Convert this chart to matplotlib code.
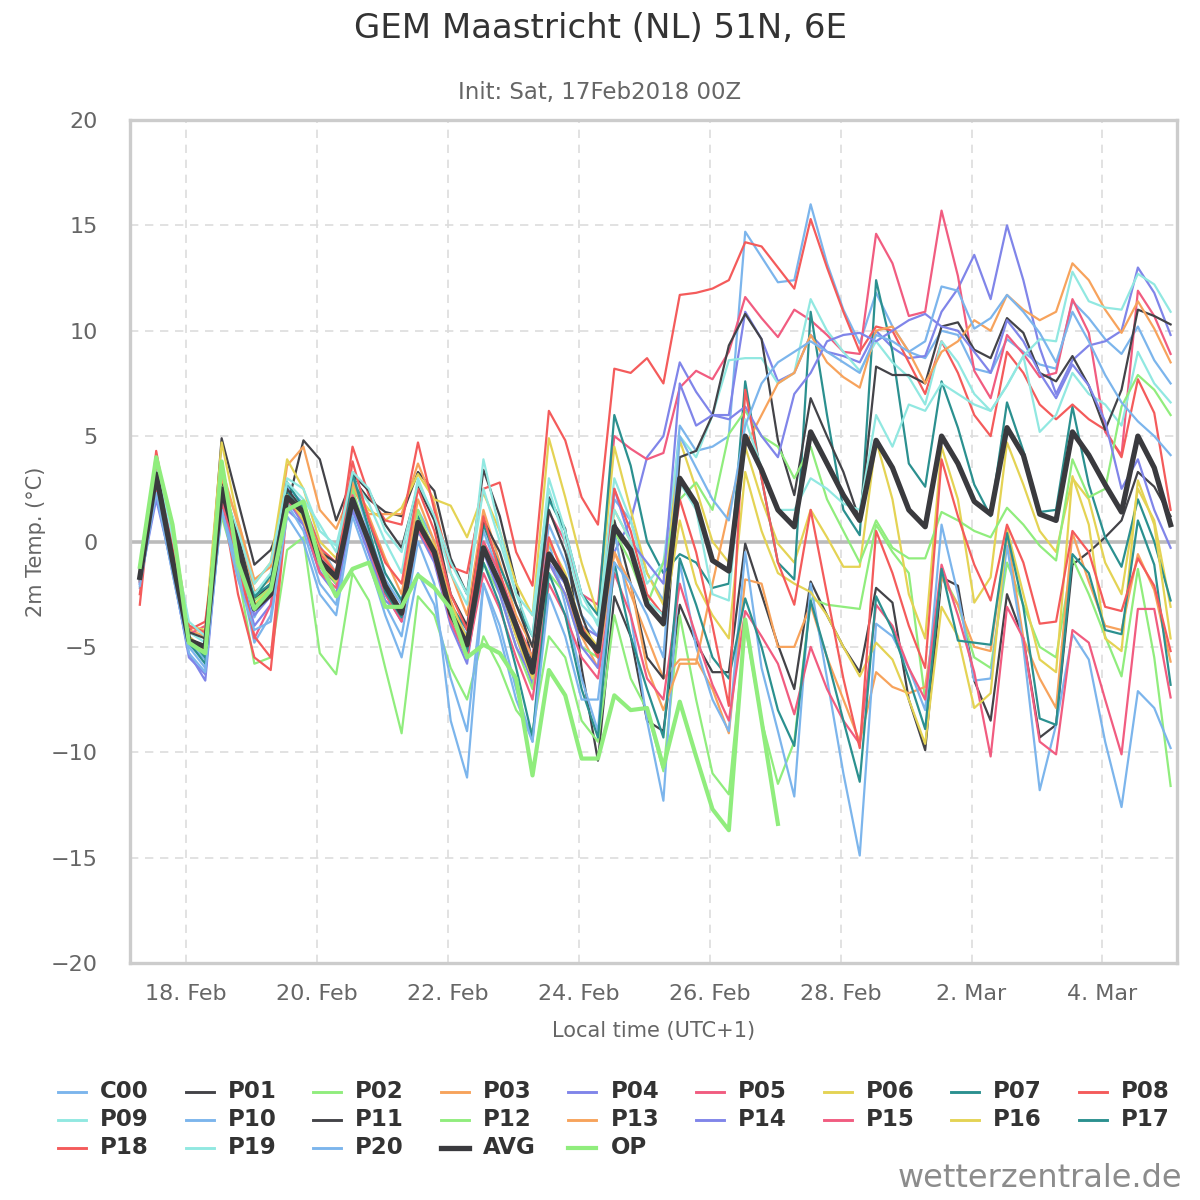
import numpy as np
import matplotlib.pyplot as plt
from matplotlib.lines import Line2D

# 6-hourly steps from 17 Feb 2018 07:00 local time (00Z run + 6h, UTC+1)
times = np.datetime64("2018-02-17T07:00") + np.arange(64) * np.timedelta64(6, "h")

c00 = [-1.9, 2.8, -0.5, -4.9, -5.6, 2.0, -0.5, -3.6,
       -2.0, 2.6, 1.8, -0.2, -1.5, 3.0, 0.4, -1.8,
       -3.0, 1.5, 0.0, -3.0, -4.5, 0.5, -1.6, -3.8,
       -5.8, 0.8, -1.0, -3.5, -4.5, 2.0, 1.0, -1.5,
       -2.8, 5.5, 4.3, 4.5, 5.0, 14.7, 13.5, 12.3,
       12.4, 16.0, 13.2, 11.0, 9.4, 11.8, 10.2, 9.0,
       8.7, 10.0, 9.8, 8.2, 8.0, 9.6, 9.0, 8.4,
       8.2, 11.4, 10.6, 9.6, 8.9, 10.2, 8.6, 7.5]
p01 = [-1.6, 3.3, -0.7, -4.6, -5.0, 4.9, 1.9, -1.1,
       -0.4, 1.6, 4.8, 3.9, 1.0, 3.0, 2.0, 1.4,
       1.2, 3.3, 2.4, -0.8, -2.5, 3.4, 1.2, -2.0,
       -5.8, 2.1, 0.6, -6.0, -10.4, -2.6, -4.5, -8.5,
       -9.0, -3.0, -4.8, -6.2, -6.2, -0.1, -2.5, -4.9,
       -7.0, -1.9, -3.5, -5.0, -6.2, -2.2, -2.9, -7.5,
       -9.9, -1.7, -2.1, -6.6, -8.5, -2.5, -4.6, -9.3,
       -8.7, -1.1, -0.5, 0.2, 1.0, 3.3, 2.6, 1.2]
p02 = [-1.3, 3.6, 0.8, -4.8, -5.4, 1.2, -1.5, -5.8,
       -5.5, -0.4, 0.2, -5.3, -6.3, -1.5, -2.8, -6.0,
       -9.1, -2.6, -3.5, -6.0, -7.5, -4.5, -6.0, -8.0,
       -9.0, -4.5, -5.5, -8.5, -9.5, -3.5, -6.5, -8.0,
       -10.9, -3.5, -7.5, -11.0, -12.0, -4.0, -8.5, -11.5,
       -9.5, -2.7, -3.0, -3.1, -3.2, 0.8, -0.5, -1.5,
       -7.5, -1.5, -3.0, -5.5, -6.0, -1.0, -3.0, -5.0,
       -5.5, -0.8, -2.5, -4.5, -6.4, -1.3, -5.5, -11.6]
p03 = [-1.4, 3.5, -0.6, -4.2, -4.5, 3.5, 0.8, -2.4,
       -1.8, 3.6, 4.5, 1.5, 0.6, 2.5, 1.3, 1.3,
       1.3, 3.7, 1.8, -1.5, -3.5, 1.5, -1.0, -3.5,
       -5.0, -0.5, -2.0, -4.5, -6.0, -0.5, -2.5, -4.5,
       -6.5, -5.6, -5.6, -7.0, -9.1, -1.8, -2.0, -5.0,
       -5.0, -3.0, -5.5, -7.5, -9.5, -6.2, -6.9, -7.2,
       -6.9, -1.7, -3.0, -5.0, -5.2, 0.4, -4.6, -6.5,
       -7.9, 0.4, -1.9, -4.0, -4.2, -0.6, -2.3, -5.7]
p04 = [-2.0, 2.4, -1.5, -5.3, -6.6, 1.8, -1.0, -4.0,
       -3.0, 1.5, 0.8, -1.5, -2.5, 1.5, -0.5, -2.5,
       -3.8, 0.5, -0.5, -3.8, -5.5, -0.3, -2.2, -4.5,
       -6.8, -1.0, -2.0, -4.0, -4.5, -0.5, 1.0, 4.0,
       5.0, 8.5, 7.1, 6.0, 6.0, 10.9, 9.6, 7.6,
       8.0, 9.8, 9.0, 8.8, 8.5, 10.0, 9.2, 8.7,
       8.8, 10.9, 12.0, 13.6, 11.5, 15.0, 12.4, 9.2,
       7.0, 8.6, 9.3, 9.5, 10.0, 13.0, 11.8, 9.8]
p05 = [-1.8, 2.2, -1.0, -4.4, -4.0, 2.2, 0.0, -3.0,
       -2.6, 2.4, 1.0, -1.2, -2.0, 2.0, 0.2, -2.3,
       -3.5, 0.6, -0.8, -3.5, -5.0, 0.0, -1.5, -3.8,
       -5.5, 1.4, 0.0, -2.5, -3.0, 5.0, 4.4, 3.9,
       4.2, 7.3, 8.1, 7.7, 9.0, 11.6, 10.6, 9.7,
       11.0, 10.5, 9.8, 9.0, 8.9, 14.6, 13.2, 10.7,
       10.9, 15.7, 12.6, 8.1, 6.8, 9.8, 8.9, 7.8,
       8.0, 11.5, 9.9, 5.2, 4.1, 11.9, 10.7, 8.9]
p06 = [-1.5, 3.4, -0.3, -4.0, -4.2, 4.7, 1.0, -2.0,
       -1.0, 3.9, 2.5, 0.0, -0.8, 2.6, 1.5, 1.0,
       1.6, 3.2, 2.0, 1.7, 0.2, 2.3, 0.5, -2.0,
       -3.5, 4.9, 2.1, -1.0, -3.5, 4.5, 1.5, -1.5,
       -3.0, 4.8, 2.5, 0.0, -1.0, 4.5, 2.0, -0.1,
       -1.0, 1.5, 0.2, -1.2, -1.2, 4.8, 2.0, -2.5,
       -4.6, 4.5, 2.0, -2.9, -1.7, 4.7, 2.7, 0.5,
       -0.5, 3.0, 2.0, -1.0, -2.5, 2.5, 1.0, -3.1]
p07 = [-1.9, 3.3, -0.6, -4.6, -5.5, 2.2, -0.8, -2.7,
       -1.6, 2.4, 1.2, -1.0, -2.0, 3.3, 1.0, -1.5,
       -2.8, 1.2, -0.5, -3.0, -4.2, 0.8, -1.2, -3.0,
       -4.5, 2.0, 0.5, -2.5, -3.5, 6.0, 3.6, 0.0,
       -1.5, -0.6, -1.0, -2.2, -2.0, 7.6, 3.0, -1.0,
       -1.8, 10.9, 6.0, 1.5, 0.3, 12.4, 9.0, 3.7,
       2.6, 7.6, 5.4, 2.7, 1.2, 6.6, 4.3, 1.4,
       1.5, 6.4, 2.7, 0.2, -1.2, 2.0, 0.0, -2.8]
p08 = [-3.0, 4.3, 0.0, -4.2, -3.8, 2.0, -2.5, -5.5,
       -6.1, 1.5, 1.8, -0.3, -1.0, 4.5, 2.2, 1.0,
       0.8, 4.7, 1.5, -1.2, -1.5, 2.5, 2.8, -0.5,
       -2.1, 6.2, 4.8, 2.1, 0.8, 8.2, 8.0, 8.7,
       7.5, 11.7, 11.8, 12.0, 12.4, 14.2, 14.0, 13.0,
       12.0, 15.3, 13.0, 10.9, 9.0, 10.2, 10.0, 8.5,
       7.0, 9.5, 8.0, 6.0, 5.0, 9.0, 8.0, 6.5,
       5.8, 6.5, 5.8, 5.3, 4.0, 7.7, 6.1, 1.5]
p09 = [-1.6, 3.5, -0.4, -4.3, -4.8, 2.5, -0.1, -2.5,
       -1.5, 3.0, 2.5, 0.5, -0.2, 3.0, 1.8, 0.0,
       -1.5, 3.0, 1.0, -1.5, -3.0, 3.9, 0.5, -2.5,
       -4.5, 3.0, 0.5, -2.5, -4.0, 3.0, 1.0, -2.0,
       -1.0, 5.0, 4.0, 6.0, 8.6, 8.7, 8.7, 7.5,
       8.0, 11.5, 10.0, 9.0, 8.1, 9.5, 8.5, 7.8,
       6.5, 9.5, 8.5, 7.0, 6.2, 7.4, 8.8, 5.2,
       6.0, 8.0, 7.0, 6.5, 5.5, 9.0, 7.5, 6.6]
p10 = [-2.2, 2.5, -1.2, -5.0, -6.0, 1.5, -1.2, -4.8,
       -3.5, 1.8, 0.5, -2.0, -3.0, 1.8, -0.5, -3.0,
       -4.5, 0.0, -2.0, -8.5, -11.2, -2.0, -4.0, -7.0,
       -9.5, 0.0, -3.0, -6.5, -9.0, 0.5, -3.5, -8.5,
       -12.3, -1.0, -5.0, -7.5, -9.0, -0.5, -6.0, -9.0,
       -12.1, -2.0, -6.5, -11.0, -14.9, -3.9, -4.5, -6.0,
       -8.0, 0.8, -2.5, -6.6, -6.5, -0.2, -5.0, -11.8,
       -8.7, -4.4, -5.6, -9.5, -12.6, -7.1, -7.9, -9.8]
p11 = [-1.8, 3.0, -0.4, -4.3, -4.6, 2.8, 0.3, -2.8,
       -2.0, 2.5, 1.5, -0.5, -1.0, 3.2, 2.4, 0.8,
       -0.3, 2.6, 1.0, -2.5, -4.0, 1.0, -0.5, -3.0,
       -5.0, 1.5, -0.5, -3.5, -5.5, 1.0, -2.0, -5.5,
       -6.5, 4.0, 4.3, 6.0, 9.3, 10.8, 9.6, 4.8,
       2.2, 6.8, 5.0, 3.3, 1.0, 8.3, 7.9, 7.9,
       7.5, 10.2, 10.4, 9.1, 8.7, 10.6, 9.9, 8.0,
       7.6, 8.8, 7.4, 5.3, 7.2, 11.0, 10.7, 10.3]
p12 = [-1.6, 3.9, 0.4, -4.6, -5.1, 3.5, -0.8, -2.8,
       -2.2, 1.8, 1.2, -1.0, -2.0, 2.5, 0.0, -2.5,
       -3.2, 1.5, -0.5, -3.5, -5.5, -1.0, -2.5, -5.0,
       -7.0, -1.5, -2.5, -5.0, -5.5, 0.5, -1.0, -3.0,
       -1.0, 2.0, 2.8, 1.5, 5.1, 6.2, 5.0, 4.5,
       3.0, 4.5, 2.0, 0.5, -1.0, 1.0, -0.3, -0.8,
       -0.8, 1.4, 1.0, 0.5, 0.2, 1.6, 0.8, -0.2,
       -0.9, 3.9, 2.1, 2.5, 6.4, 7.9, 7.2, 6.0]
p13 = [-1.2, 3.7, 0.5, -4.0, -4.4, 3.0, 1.0, -1.8,
       -1.2, 2.0, 1.5, -0.4, -1.5, 2.8, 1.2, -0.8,
       -2.5, 2.0, 0.0, -2.8, -4.8, -0.5, -2.0, -4.0,
       -5.5, -1.0, -2.5, -4.5, -5.2, -0.5, -2.0, -6.0,
       -8.0, -5.8, -5.8, -2.0, 1.5, 4.5, 6.0, 7.5,
       8.0, 9.8, 8.5, 7.8, 7.3, 10.0, 10.2, 9.0,
       7.5, 9.0, 9.5, 10.5, 10.0, 11.7, 11.0, 10.5,
       10.9, 13.2, 12.4, 11.0, 9.9, 11.4, 10.1, 8.5]
p14 = [-2.0, 2.0, -1.3, -5.5, -6.3, 2.0, -0.6, -3.5,
       -2.6, 2.0, 0.8, -1.4, -2.5, 1.5, -0.6, -2.8,
       -3.5, 0.5, -1.0, -4.0, -5.8, -0.5, -2.5, -5.0,
       -6.5, -1.0, -2.5, -5.0, -6.0, 2.5, 0.0, -1.0,
       -2.0, 7.5, 5.5, 6.0, 5.8, 6.4, 5.0, 4.0,
       7.0, 8.0, 9.5, 9.8, 9.9, 9.5, 10.0, 10.5,
       10.8, 10.2, 10.0, 9.0, 8.0, 10.5, 9.5, 8.0,
       6.8, 8.4, 7.4, 5.7, 2.5, 3.9, 1.5, -0.3]
p15 = [-1.9, 2.6, -1.0, -4.5, -5.2, 2.0, -0.8, -4.6,
       -3.0, 2.0, 1.0, -1.5, -2.2, 2.2, -0.3, -2.5,
       -3.8, 0.6, -0.8, -3.8, -5.5, -1.5, -3.2, -5.5,
       -7.5, -2.0, -3.5, -5.5, -6.5, -1.5, -3.5, -6.5,
       -7.5, -2.0, -4.5, -6.8, -8.5, -3.3, -4.5, -5.8,
       -8.2, -5.0, -7.0, -8.5, -9.6, -3.0, -4.0, -6.0,
       -7.5, -1.1, -3.5, -6.2, -10.2, -3.1, -4.6, -9.5,
       -10.1, -4.2, -4.8, -7.5, -10.1, -3.2, -3.2, -7.4]
p16 = [-1.7, 3.0, -0.8, -4.5, -5.2, 2.6, -0.4, -3.0,
       -2.2, 2.2, 1.0, -1.0, -1.9, 1.8, 0.0, -2.0,
       -3.3, 1.0, -0.2, -3.0, -4.6, -0.2, -2.0, -4.5,
       -6.5, 0.0, -1.5, -4.0, -5.0, 1.5, 0.0, -3.0,
       -4.0, 1.0, -2.0, -3.5, -4.6, 3.3, 0.5, -1.5,
       -2.0, -2.4, -3.5, -5.0, -6.4, -4.8, -5.6, -7.5,
       -9.6, -3.1, -4.5, -7.9, -7.2, 0.6, -2.5, -5.6,
       -6.2, 3.1, 0.8, -4.6, -5.2, 2.9, 0.8, -4.6]
p17 = [-1.8, 3.1, -0.8, -4.8, -5.8, 2.4, -0.6, -2.6,
       -2.0, 2.8, 1.6, -0.8, -1.8, 3.2, 0.6, -2.4,
       -3.6, 0.8, -0.6, -3.4, -5.2, -1.0, -3.0, -6.0,
       -9.3, -1.5, -3.5, -7.0, -9.3, -1.0, -4.5, -7.0,
       -9.3, -0.8, -3.0, -5.5, -6.5, -2.7, -5.0, -8.0,
       -9.7, -2.8, -5.5, -8.5, -11.4, -2.6, -4.2, -6.5,
       -8.9, -1.3, -4.7, -4.8, -4.9, 0.4, -3.1, -8.4,
       -8.7, -0.6, -1.5, -4.2, -4.4, 1.0, -1.1, -6.8]
p18 = [-2.5, 3.8, -0.2, -4.0, -4.3, 2.3, -0.8, -4.5,
       -5.5, 2.0, 1.5, -0.6, -1.5, 3.8, 1.0, -1.0,
       -2.0, 2.5, 0.5, -2.5, -4.2, 1.2, -1.5, -4.2,
       -6.2, 0.2, -1.8, -4.0, -5.5, 2.5, 0.5, -2.5,
       -3.5, 2.0, -0.5, -4.0, -7.8, 7.2, 3.0, -1.0,
       -3.0, 1.5, -2.5, -6.5, -9.8, 0.5, -1.5, -4.0,
       -6.0, 3.9, 1.2, -1.1, -2.8, 0.8, -1.0, -3.9,
       -3.8, 0.5, -0.5, -3.1, -3.3, -0.8, -2.1, -5.2]
p19 = [-1.5, 3.8, 0.2, -3.8, -4.5, 2.6, 0.5, -2.0,
       -1.0, 2.8, 2.0, 0.8, -0.5, 3.3, 2.5, 0.5,
       -0.5, 2.8, 1.2, -1.0, -2.5, 2.5, 0.0, -2.5,
       -3.5, 2.5, 0.0, -3.0, -3.8, 1.5, 0.0, -2.8,
       -3.5, 2.8, 1.5, -2.5, -2.8, 5.8, 3.5, 1.5,
       1.5, 3.0, 2.5, 1.8, 1.5, 6.0, 4.5, 6.5,
       6.2, 7.5, 7.0, 6.5, 6.2, 7.4, 8.8, 9.6,
       9.5, 12.8, 11.4, 11.1, 11.0, 12.7, 12.2, 10.9]
p20 = [-2.1, 2.3, -1.5, -5.3, -6.2, 1.5, -1.8, -4.2,
       -3.8, 1.2, 0.0, -2.5, -3.5, 1.2, -1.0, -3.5,
       -5.5, -1.5, -3.0, -6.5, -9.0, -2.0, -4.5, -7.5,
       -9.5, -2.5, -4.5, -7.5, -7.5, -1.0, -2.0, -3.5,
       -5.5, 5.0, 3.5, 2.0, 1.0, 5.5, 7.5, 8.5,
       9.0, 9.5, 9.0, 8.5, 8.0, 9.8, 9.5, 9.0,
       9.5, 12.1, 11.9, 10.1, 10.6, 11.7, 10.9, 9.9,
       8.5, 10.9, 9.5, 7.9, 6.6, 5.7, 5.0, 4.1]
avg = [-1.7, 3.2, -0.9, -4.7, -5.0, 2.5, -0.2, -3.2,
       -2.5, 2.1, 1.4, -0.9, -1.7, 2.0, 0.0, -2.1,
       -3.4, 0.9, -0.5, -3.4, -4.9, -0.3, -2.0, -4.0,
       -6.2, -0.6, -1.8, -4.3, -5.2, 0.7, -0.4, -3.0,
       -3.9, 3.0, 1.8, -0.9, -1.4, 5.0, 3.4, 1.5,
       0.7, 5.2, 3.7, 2.2, 1.0, 4.8, 3.5, 1.5,
       0.7, 5.0, 3.7, 1.9, 1.3, 5.4, 4.1, 1.3,
       1.0, 5.2, 4.1, 2.7, 1.4, 5.0, 3.5, 0.8]
# deterministic run only goes to +240h
op = [-1.2, 4.0, 0.8, -4.8, -5.3, 3.8, -1.0, -3.2,
      -2.3, 1.5, 1.9, -1.0, -2.6, -1.3, -1.0, -3.1,
      -3.1, -1.6, -2.2, -3.2, -5.5, -4.9, -5.3, -6.5,
      -11.1, -6.1, -7.3, -10.3, -10.3, -7.3, -8.0, -7.9,
      -10.7, -7.6, -10.2, -12.7, -13.7, -3.7, -8.5, -13.4]

members = ["C00", "P01", "P02", "P03", "P04", "P05", "P06", "P07", "P08", "P09",
           "P10", "P11", "P12", "P13", "P14", "P15", "P16", "P17", "P18", "P19", "P20"]
member_data = [c00, p01, p02, p03, p04, p05, p06, p07, p08, p09,
               p10, p11, p12, p13, p14, p15, p16, p17, p18, p19, p20]
palette = ["#7cb5ec", "#434348", "#90ed7d", "#f7a35c", "#8085e9",
           "#f15c80", "#e4d354", "#2b908f", "#f45b5b", "#91e8e1"]

tick_dates = ["2018-02-18", "2018-02-20", "2018-02-22", "2018-02-24",
              "2018-02-26", "2018-02-28", "2018-03-02", "2018-03-04"]
tick_labels = ["18. Feb", "20. Feb", "22. Feb", "24. Feb",
               "26. Feb", "28. Feb", "2. Mar", "4. Mar"]

plt.rcParams["font.family"] = ["DejaVu Sans"]

fig = plt.figure(figsize=(12, 12), dpi=100)
ax = fig.add_axes([0.108, 0.1975, 0.873, 0.7025])

series = []
for i, (name, vals) in enumerate(zip(members, member_data)):
    ln, = ax.plot(times[:len(vals)], vals, color=palette[i % 10], lw=1.6,
                  solid_joinstyle="round", label=name)
    series.append(ln)
ln, = ax.plot(times[:len(avg)], avg, color="#3a3a3e", lw=3.8,
              solid_joinstyle="round", label="AVG")
series.append(ln)
ln, = ax.plot(times[:len(op)], op, color="#90ed7d", lw=3.0,
              solid_joinstyle="round", label="OP")
series.append(ln)

ax.axhline(0, color="#bbbbbb", lw=2.6, zorder=1)

ax.set_ylim(-20, 20)
ax.set_yticks(np.arange(-20, 21, 5))
ax.set_yticklabels([str(v).replace("-", "\u2212") for v in range(-20, 21, 5)])
ax.set_xlim(times[0] - np.timedelta64(225, "m"), times[-1] + np.timedelta64(145, "m"))
ax.set_xticks([np.datetime64(d) for d in tick_dates])
ax.set_xticklabels(tick_labels)

ax.grid(True, color="#dddddd", lw=1.2, ls=(0, (5, 4)))
ax.set_axisbelow(True)
for s in ax.spines.values():
    s.set_color("#cccccc")
    s.set_linewidth(2.4)
ax.tick_params(length=0, labelsize=16, colors="#666666")
ax.tick_params(axis="x", pad=15)
ax.tick_params(axis="y", pad=23)

ax.set_ylabel("2m Temp. (\u00b0C)", fontsize=15, color="#666666", labelpad=3)
ax.set_xlabel("Local time (UTC+1)", fontsize=15, color="#666666", labelpad=12)

fig.text(0.5, 0.976, "GEM Maastricht (NL) 51N, 6E", ha="center", va="center",
         fontsize=24.5, color="#333333")
fig.text(0.5, 0.923, "Init: Sat, 17Feb2018 00Z", ha="center", va="center",
         fontsize=16.5, color="#666666")

# legend, filled row by row like the original
for k, ln in enumerate(series):
    row, col = divmod(k, 9)
    x0 = (58 + col * 127.6) / 1200
    y0 = 1 - (1092 + row * 28) / 1200
    fig.add_artist(Line2D([x0, x0 + 28 / 1200], [y0, y0], color=ln.get_color(),
                          lw=ln.get_linewidth() * (1.3 if k < 21 else 1.0),
                          transform=fig.transFigure))
    fig.text(x0 + 42 / 1200, y0, ln.get_label(), ha="left", va="center",
             fontsize=16.5, fontweight="bold", color="#333333")

fig.text(0.985, 0.018, "wetterzentrale.de", ha="right", va="center",
         fontsize=23, color="#8c8c8c")

fig.savefig("out.png", dpi=100)
